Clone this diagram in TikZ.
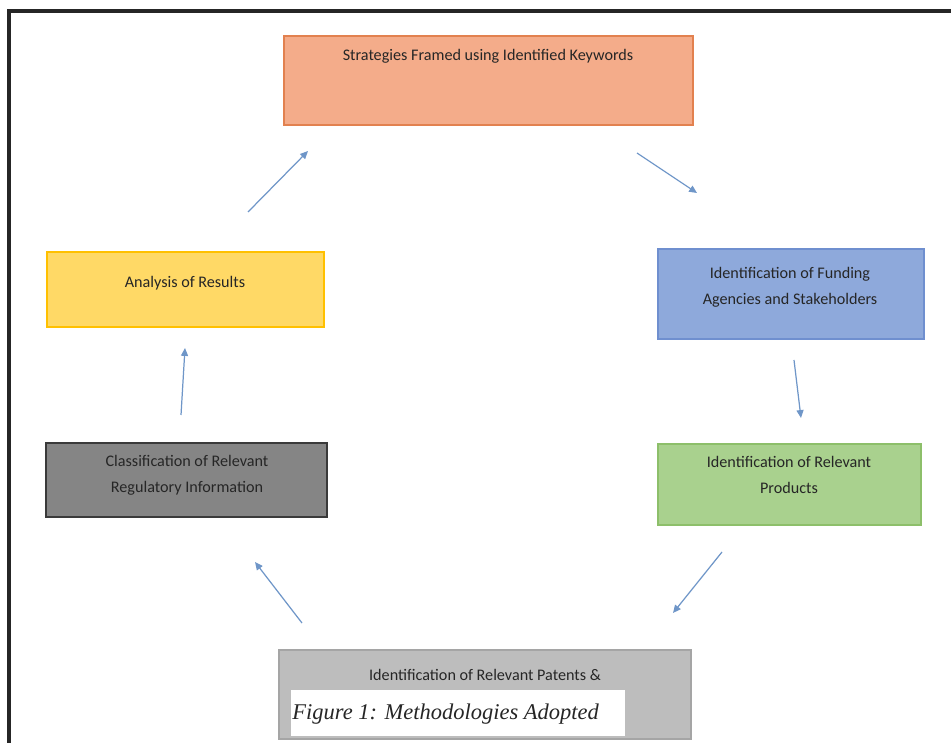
\documentclass[tikz,border=0pt]{standalone}
\usepackage{fontspec}
\setmainfont{Carlito}
\newfontfamily\capfont{Liberation Serif}
\usetikzlibrary{arrows.meta}

\definecolor{stratfill}{HTML}{F4AC8A}
\definecolor{stratline}{HTML}{E2814F}
\definecolor{fundfill}{HTML}{8EA9DB}
\definecolor{fundline}{HTML}{6F8FCF}
\definecolor{prodfill}{HTML}{A9D18E}
\definecolor{prodline}{HTML}{8DBF6A}
\definecolor{patedge}{HTML}{BDBDBD}
\definecolor{patmid}{HTML}{D6D6D6}
\definecolor{patline}{HTML}{A5A5A5}
\definecolor{regedge}{HTML}{858585}
\definecolor{regmid}{HTML}{9C9C9C}
\definecolor{regline}{HTML}{3A3A3A}
\definecolor{anafill}{HTML}{FFD966}
\definecolor{analine}{HTML}{FFC000}
\definecolor{arrowblue}{HTML}{6F96C8}

\tikzset{
	stepbox/.style={draw, line width=1.2pt, inner sep=0pt},
	lbl/.style={font=\fontsize{9.2}{14.8}\selectfont, text=black!85, align=center},
	flow/.style={arrowblue, line width=0.7pt, -{Triangle[length=4.5pt,width=4pt]}}
}

\begin{document}
\begin{tikzpicture}[x=0.02cm, y=-0.02cm]
	\useasboundingbox (0,0) rectangle (951,743);
	%Frame
		\draw [line width=1.8pt, black!85] (951,11) -- (9,11) -- (9,743);
	%Top box
		\node [stepbox, fill=stratfill, draw=stratline, minimum width=8.18cm, minimum height=1.78cm] (strat) at (488.5,80.5) {};
		\node [lbl] (strattxt) at (488,56) {Strategies Framed using Identified Keywords};
	%Right side
		\node [stepbox, fill=fundfill, draw=fundline, minimum width=5.32cm, minimum height=1.8cm] (fund) at (791,294) {};
		\node [lbl] (fundtxt) at (790,287.5) {Identification of Funding\\Agencies and Stakeholders};
		\node [stepbox, fill=prodfill, draw=prodline, minimum width=5.26cm, minimum height=1.62cm] (prod) at (789.5,484.5) {};
		\node [lbl] (prodtxt) at (789,475) {Identification of Relevant\\Products};
	%Bottom box
		\node [stepbox, left color=patedge, middle color=patmid, right color=patedge, draw=patline, minimum width=8.24cm, minimum height=1.78cm] (pat) at (485,694.5) {};
		\node [lbl] (pattxt) at (485,675) {Identification of Relevant Patents \&};
		%Caption over it
		\node [fill=white, inner sep=0pt, minimum width=6.68cm, minimum height=0.92cm] (capbox) at (458,713) {};
		\node [anchor=west, inner sep=0pt, font=\capfont\itshape\fontsize{12.8}{14}\selectfont, text=black!85] (captxt) at (292,714) {Figure 1: Methodologies Adopted};
	%Left side
		\node [stepbox, left color=regedge, middle color=regmid, right color=regedge, draw=regline, minimum width=5.62cm, minimum height=1.48cm] (reg) at (186.5,480) {};
		\node [lbl] (regtxt) at (187,475) {Classification of Relevant\\Regulatory Information};
		\node [stepbox, fill=anafill, draw=analine, minimum width=5.54cm, minimum height=1.5cm] (ana) at (185.5,289.5) {};
		\node [lbl] (anatxt) at (185,283) {Analysis of Results};
	%Arrow ends
		\coordinate (strat-out) at (637,153);
		\coordinate (fund-in) at (697,193);
		\coordinate (fund-out) at (794,360);
		\coordinate (prod-in) at (801,418);
		\coordinate (prod-out) at (722,552);
		\coordinate (pat-in) at (673,613);
		\coordinate (pat-out) at (302,623);
		\coordinate (reg-in) at (255,562);
		\coordinate (reg-out) at (181,415);
		\coordinate (ana-in) at (185,348);
		\coordinate (ana-out) at (248,212);
		\coordinate (strat-in) at (308,151);
	%Arrows
		\draw [flow] (strat-out) -- (fund-in);
		\draw [flow] (fund-out) -- (prod-in);
		\draw [flow] (prod-out) -- (pat-in);
		\draw [flow] (pat-out) -- (reg-in);
		\draw [flow] (reg-out) -- (ana-in);
		\draw [flow] (ana-out) -- (strat-in);
\end{tikzpicture}
\end{document}
